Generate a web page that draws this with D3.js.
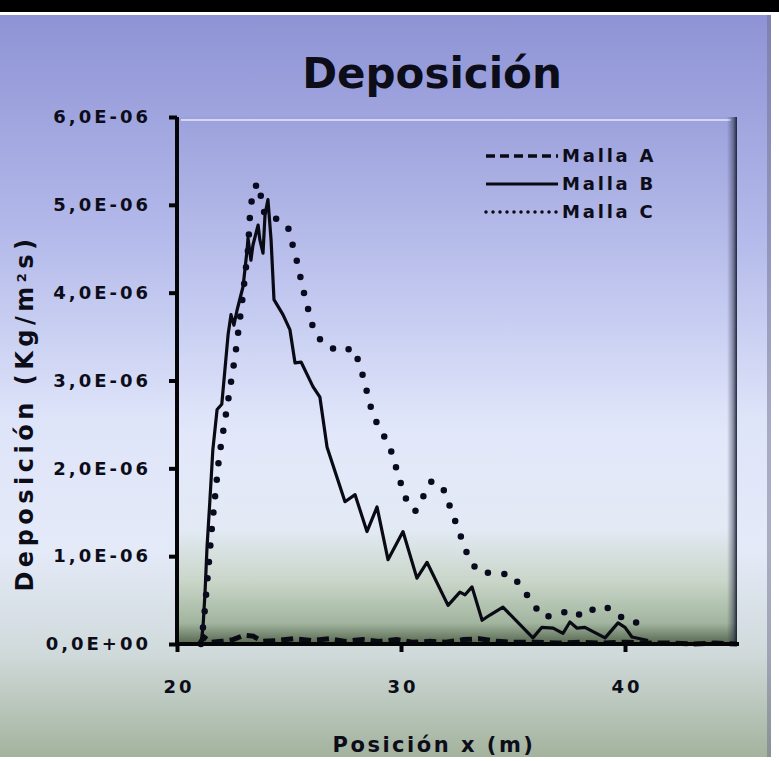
<!DOCTYPE html>
<html>
<head>
<meta charset="utf-8">
<script src="https://cdn.jsdelivr.net/npm/d3@7"></script>
<style>
  body { margin: 0; background: #fff; }
  svg { display: block; }
  text { font-family: "DejaVu Sans", Verdana, sans-serif; font-weight: bold; fill: #0d0d1a; }
</style>
</head>
<body>
<div id="chart"></div>
<script>
// --- data (y in Kg/m2s) ---
const seriesNames = ['Malla A', 'Malla B', 'Malla C'];

const xTicks = [20, 30, 40];
const yTicks = [0, 1e-6, 2e-6, 3e-6, 4e-6, 5e-6, 6e-6];

const mallaA_x = [21.0, 21.2, 21.5, 22.0, 22.5, 23.0, 23.4, 23.8, 24.5, 25.2, 26.0, 26.8, 27.5, 28.3, 29.0, 29.8, 30.5, 31.3, 32.0, 32.8, 33.5, 34.3, 35.0, 36.0, 37.0, 38.0, 39.0, 40.0, 41.0, 42.0, 43.0, 44.0, 45.0];
const mallaA_y = [0, 0.08e-6, 0.02e-6, 0.03e-6, 0.05e-6, 0.1e-6, 0.09e-6, 0.03e-6, 0.04e-6, 0.06e-6, 0.04e-6, 0.06e-6, 0.03e-6, 0.05e-6, 0.03e-6, 0.05e-6, 0.02e-6, 0.03e-6, 0.02e-6, 0.05e-6, 0.06e-6, 0.03e-6, 0.02e-6, 0.02e-6, 0.01e-6, 0.02e-6, 0.01e-6, 0.02e-6, 0.01e-6, 0.01e-6, 0, 0.01e-6, 0];

const mallaB_x = [21.07, 21.16, 21.25, 21.34, 21.47, 21.6, 21.79, 22.0, 22.28, 22.41, 22.54, 22.68, 22.95, 23.13, 23.17, 23.3, 23.39, 23.62, 23.7, 23.84, 23.93, 24.06, 24.2, 24.33, 24.73, 25.04, 25.27, 25.54, 26.07, 26.38, 26.7, 27.5, 27.95, 28.48, 28.93, 29.42, 30.09, 30.71, 31.16, 32.1, 32.63, 32.86, 33.17, 33.62, 33.97, 34.55, 35.89, 36.29, 36.79, 37.23, 37.54, 37.86, 38.21, 39.11, 39.69, 40.0, 40.31, 41.03];
const mallaB_y = [0, 0.19e-6, 0.58e-6, 1.1e-6, 1.64e-6, 2.21e-6, 2.67e-6, 2.73e-6, 3.52e-6, 3.75e-6, 3.63e-6, 3.8e-6, 4.07e-6, 4.49e-6, 4.62e-6, 4.37e-6, 4.54e-6, 4.77e-6, 4.6e-6, 4.45e-6, 4.89e-6, 5.06e-6, 4.6e-6, 3.92e-6, 3.75e-6, 3.58e-6, 3.2e-6, 3.21e-6, 2.93e-6, 2.81e-6, 2.24e-6, 1.62e-6, 1.7e-6, 1.28e-6, 1.56e-6, 0.96e-6, 1.28e-6, 0.75e-6, 0.93e-6, 0.44e-6, 0.59e-6, 0.56e-6, 0.65e-6, 0.27e-6, 0.33e-6, 0.42e-6, 0.07e-6, 0.19e-6, 0.18e-6, 0.12e-6, 0.25e-6, 0.18e-6, 0.19e-6, 0.07e-6, 0.24e-6, 0.19e-6, 0.08e-6, 0.04e-6];

const mallaC_x = [21.07, 21.2, 21.56, 21.88, 22.23, 22.59, 22.9, 23.17, 23.26, 23.35, 23.57, 23.79, 23.93, 24.51, 24.96, 25.36, 25.71, 26.12, 26.56, 27.28, 27.86, 28.17, 28.75, 29.51, 30.18, 30.63, 31.38, 31.92, 32.99, 33.44, 34.96, 35.85, 36.29, 36.88, 37.59, 38.13, 38.75, 39.42, 40.0, 40.58, 40.94];
const mallaC_y = [0, 0.27e-6, 1.33e-6, 2.13e-6, 2.69e-6, 3.27e-6, 3.88e-6, 4.49e-6, 4.89e-6, 5.08e-6, 5.25e-6, 5.06e-6, 4.86e-6, 4.84e-6, 4.74e-6, 4.35e-6, 3.95e-6, 3.56e-6, 3.41e-6, 3.33e-6, 3.37e-6, 3.18e-6, 2.6e-6, 2.24e-6, 1.67e-6, 1.51e-6, 1.86e-6, 1.75e-6, 1.0e-6, 0.82e-6, 0.79e-6, 0.48e-6, 0.31e-6, 0.32e-6, 0.39e-6, 0.31e-6, 0.43e-6, 0.4e-6, 0.27e-6, 0.24e-6, 0.17e-6];

// --- layout ---
const W = 779, H = 761;
const plot = { left: 177, right: 737, top: 117, bottom: 644 };

const svg = d3.select('#chart').append('svg')
  .attr('width', W)
  .attr('height', H);

const defs = svg.append('defs');

const bgGrad = defs.append('linearGradient').attr('id', 'bgGrad')
  .attr('x1', 0).attr('y1', 0).attr('x2', 0).attr('y2', 1);
[[0, '#8e93d5'], [0.3, '#b4baea'], [0.55, '#dfe5f9'], [0.72, '#e4eaf8'], [0.86, '#d0dadb'], [1, '#a3b39d']]
  .forEach(s => bgGrad.append('stop').attr('offset', s[0]).attr('stop-color', s[1]));

const plotGrad = defs.append('linearGradient').attr('id', 'plotGrad')
  .attr('x1', 0).attr('y1', 0).attr('x2', 0).attr('y2', 1);
[[0, '#9ca1dc'], [0.35, '#c3c9f0'], [0.6, '#e2e8fa'], [0.78, '#e3eaf5'], [0.88, '#c9d6c9'], [0.96, '#a2b59f'], [1, '#56664f']]
  .forEach(s => plotGrad.append('stop').attr('offset', s[0]).attr('stop-color', s[1]));

const shadeGrad = defs.append('linearGradient').attr('id', 'shadeGrad')
  .attr('x1', 0).attr('y1', 0).attr('x2', 1).attr('y2', 0);
[[0, 'rgba(40,45,70,0)'], [0.6, 'rgba(40,45,70,0.45)'], [1, 'rgba(25,28,45,0.95)']]
  .forEach(s => shadeGrad.append('stop').attr('offset', s[0]).attr('stop-color', s[1]));

// outer frame
svg.append('rect').attr('x', 0).attr('y', 0).attr('width', W).attr('height', 12).attr('fill', '#000');
svg.append('rect').attr('x', 0).attr('y', 15).attr('width', 771).attr('height', 742).attr('fill', 'url(#bgGrad)');
svg.append('rect').attr('x', 767).attr('y', 15).attr('width', 4).attr('height', 742).attr('fill', '#6d7090').attr('opacity', 0.5);

// plot area
svg.append('rect')
  .attr('x', plot.left).attr('y', plot.top)
  .attr('width', plot.right - plot.left).attr('height', plot.bottom - plot.top)
  .attr('fill', 'url(#plotGrad)');
svg.append('line')
  .attr('x1', plot.left + 4).attr('x2', plot.right - 6)
  .attr('y1', plot.top + 3).attr('y2', plot.top + 3)
  .attr('stroke', '#eef0ff').attr('stroke-width', 2).attr('opacity', 0.7);
svg.append('rect')
  .attr('x', plot.right - 10).attr('y', plot.top)
  .attr('width', 10).attr('height', plot.bottom - plot.top)
  .attr('fill', 'url(#shadeGrad)');

// scales
const x = d3.scaleLinear().domain([20, 45]).range([plot.left, plot.right]);
const y = d3.scaleLinear().domain([0, 6e-6]).range([plot.bottom, plot.top]);

const fmtY = d => d === 0 ? '0,0E+00' : (d / 1e-6).toFixed(1).replace('.', ',') + 'E-06';

// series
const toPts = (xs, ys) => xs.map((v, i) => [v, ys[i]]);
const line = d3.line().x(d => x(d[0])).y(d => y(d[1]));

svg.append('path')
  .attr('d', line(toPts(mallaA_x, mallaA_y)))
  .attr('fill', 'none').attr('stroke', '#0a0a14')
  .attr('stroke-width', 5).attr('stroke-dasharray', '12 6');

svg.append('path')
  .attr('d', line(toPts(mallaB_x, mallaB_y)))
  .attr('fill', 'none').attr('stroke', '#0a0a14')
  .attr('stroke-width', 3.2).attr('stroke-linejoin', 'round');

svg.append('path')
  .attr('d', line(toPts(mallaC_x, mallaC_y)))
  .attr('fill', 'none').attr('stroke', '#0a0a1e')
  .attr('stroke-width', 6.5).attr('stroke-linecap', 'round')
  .attr('stroke-dasharray', '0 16.5');

// axes
const yAxis = svg.append('g')
  .attr('transform', `translate(${plot.left},0)`)
  .call(d3.axisLeft(y).tickValues(yTicks).tickFormat(fmtY).tickSize(8).tickPadding(21));
const xAxis = svg.append('g')
  .attr('transform', `translate(0,${plot.bottom})`)
  .call(d3.axisBottom(x).tickValues(xTicks).tickFormat(d3.format('d')).tickSize(8).tickPadding(28));

[yAxis, xAxis].forEach(ax => {
  ax.select('.domain').attr('stroke', '#050508').attr('stroke-width', 4);
  ax.selectAll('.tick line').attr('stroke', '#050508').attr('stroke-width', 4);
  ax.selectAll('.tick text')
    .style('font-family', '"DejaVu Sans", Verdana, sans-serif')
    .style('font-weight', 'bold')
    .style('font-size', '18px')
    .style('letter-spacing', '3px')
    .attr('fill', '#0d0d1a');
});
// letter-spacing adds a trailing gap; nudge labels back
yAxis.selectAll('.tick text').attr('dx', 3);
xAxis.selectAll('.tick text').attr('dx', 1.5);
xAxis.select('.domain').attr('d', `M${plot.left},0H${plot.right + 2}`);
yAxis.select('.domain').attr('d', `M0,${plot.bottom + 2}V${plot.top}`);

// titles
svg.append('text')
  .attr('x', 432).attr('y', 88)
  .attr('text-anchor', 'middle')
  .style('font-size', '42px')
  .text('Deposición');

svg.append('text')
  .attr('x', 434).attr('y', 752)
  .attr('text-anchor', 'middle')
  .style('font-size', '21px')
  .style('letter-spacing', '2.5px')
  .text('Posición x (m)');

const yl = svg.append('text')
  .attr('transform', 'translate(33,413) rotate(-90)')
  .attr('text-anchor', 'middle')
  .style('font-size', '24px')
  .style('letter-spacing', '4.5px');
yl.append('tspan').text('Deposición (Kg/m');
yl.append('tspan').attr('baseline-shift', 'super').style('font-size', '13px').text('2');
yl.append('tspan').text('s)');

// legend
const legendY = [156, 184, 212];
const legendStyles = [
  { w: 3.5, dash: '9 5', cap: 'butt' },
  { w: 3, dash: null, cap: 'butt' },
  { w: 3.5, dash: '0 7', cap: 'round' }
];
const lg = svg.append('g');
seriesNames.forEach((name, i) => {
  lg.append('line')
    .attr('x1', 486).attr('x2', 558)
    .attr('y1', legendY[i]).attr('y2', legendY[i])
    .attr('stroke', '#0a0a14')
    .attr('stroke-width', legendStyles[i].w)
    .attr('stroke-linecap', legendStyles[i].cap)
    .attr('stroke-dasharray', legendStyles[i].dash);
  lg.append('text')
    .attr('x', 562).attr('y', legendY[i] + 6)
    .style('font-size', '18px')
    .style('letter-spacing', '2.8px')
    .text(name);
});
</script>
</body>
</html>
